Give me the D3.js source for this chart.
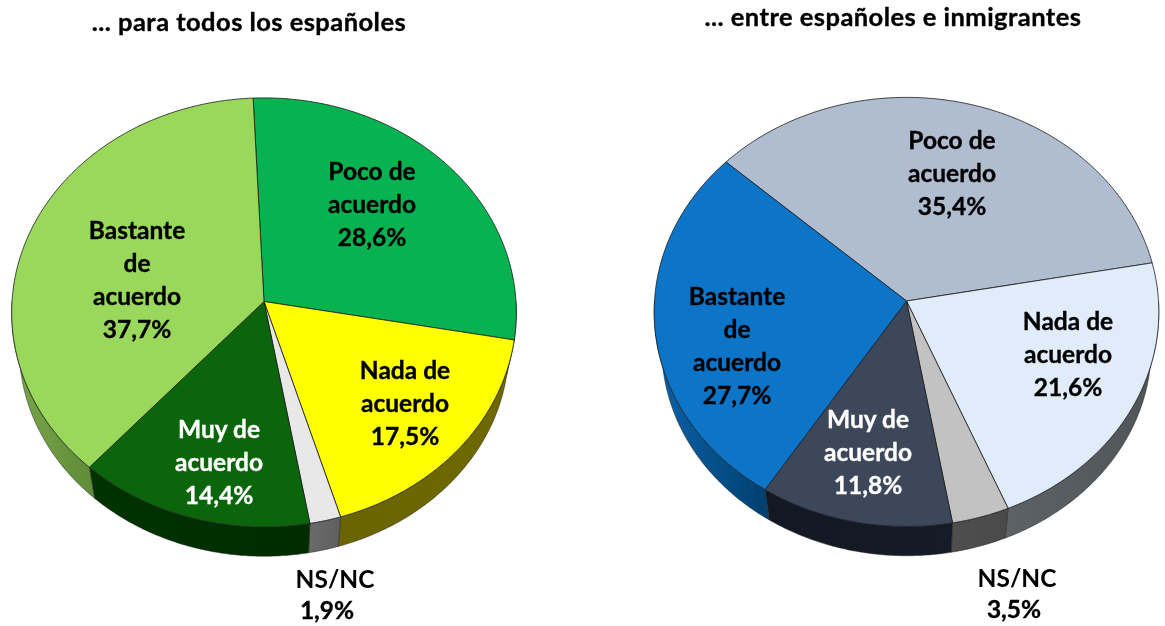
<!DOCTYPE html>
<html><head><meta charset="utf-8">
<script src="https://cdn.jsdelivr.net/npm/d3@7"></script>
<style>html,body{margin:0;padding:0;background:#fff}svg{display:block;filter:blur(.45px)}text{font-family:Lato,Carlito,sans-serif;font-weight:700;text-anchor:middle;stroke-width:.35px}</style>
</head><body><div id="c"></div>
<script>
// --- data ---
const categories = ["Poco de acuerdo","Nada de acuerdo","NS/NC","Muy de acuerdo","Bastante de acuerdo"];
const labelLines = [["Poco de","acuerdo"],["Nada de","acuerdo"],["NS/NC"],["Muy de","acuerdo"],["Bastante","de","acuerdo"]];
const valuesTodos = [28.6,17.5,1.9,14.4,37.7];
const valuesInmigrantes = [35.4,21.6,3.5,11.8,27.7];
const titleTodos = "... para todos los españoles";
const titleInmigrantes = "... entre españoles e inmigrantes";
const faceTodos = ["#07b250","#ffff00","#e8e8e8","#0b660b","#9ad85b"];
const faceInmigrantes = ["#b0bccf","#e0ecf9","#c2c2c2","#3c4759","#0c75c8"];
const wallTodos = [["#05703a","#05703a"],["#6a6400","#6f6900"],["#6a6a6a","#5f5f5f"],["#003300","#002c00"],["#7ba84a","#5f8a37"]];
const wallInmigrantes = [["#6c7583","#6c7583"],["#5c6266","#4f5457"],["#4e4e4e","#4a4a4a"],["#131923","#161c27"],["#0a62aa","#003f6e"]];
// --- layout ---
const W=1165,H=626,R=252,tilt=214,persp=0.051,backScale=0.97,backDrop=36;
const pies=[
 {id:"a",values:valuesTodos,face:faceTodos,wall:wallTodos,title:titleTodos,cx:264,cy:301.5,start:-2.6,titleX:249,titleY:31,
  anchors:[[372,180],[405,379],[335,588],[219,438],[137,239]],valueDx:[0,0,-8,0,0],fill:["#000","#000","#000","#fff","#000"]},
 {id:"b",values:valuesInmigrantes,face:faceInmigrantes,wall:wallInmigrantes,title:titleInmigrantes,cx:906.5,cy:301,start:-47.8,titleX:893,titleY:26,
  anchors:[[952,149],[1068,330],[1017,587],[868,428],[737,305]],valueDx:[0,0,-3,0,0],fill:["#000","#000","#000","#fff","#000"]}
];
const lineH=33, fontSize=24.5, titleSize=25.5;
const svg=d3.select("#c").append("svg").attr("width",W).attr("height",H).attr("viewBox",[0,0,W,H]);
const defs=svg.append("defs");
const line=d3.line();
function project(a){ // a: radians clockwise from the top of the disc
  const Y=-Math.cos(a), w=1-persp*Y;
  return [R*Math.sin(a)/w, tilt*Y/w];
}
const back=p=>[p[0]*backScale,p[1]*backScale+backDrop];
function arcPts(a0,a1){
  const n=Math.max(2,Math.ceil((a1-a0)/0.01)), s=d3.scaleLinear().domain([0,n]).range([a0,a1]);
  return d3.range(n+1).map(i=>project(s(i)));
}
pies.forEach(p=>{
  const startRad=p.start*Math.PI/180;
  const arcs=d3.pie().sort(null).startAngle(startRad).endAngle(startRad+2*Math.PI)(p.values);
  const g=svg.append("g").attr("transform",`translate(${p.cx},${p.cy})`);
  // side walls
  arcs.forEach((d,i)=>{
    let a0=d.startAngle,a1=d.endAngle;
    const lo=Math.PI/2,hi=3*Math.PI/2;
    a0=Math.max(a0,lo);a1=Math.min(a1,hi);
    if(a1<=a0){return;}
    const id=`w${p.id}${i}`;
    const lg=defs.append("linearGradient").attr("id",id).attr("x1",0).attr("x2",1).attr("y1",0).attr("y2",0);
    lg.append("stop").attr("offset",0).attr("stop-color",p.wall[i][0]);
    lg.append("stop").attr("offset",1).attr("stop-color",p.wall[i][1]);
    const top=arcPts(a0,a1), bot=top.map(back).reverse();
    g.append("path").attr("d",line(top.concat(bot))+"Z").attr("fill",`url(#${id})`)
      .attr("stroke","#222").attr("stroke-width",.7).attr("stroke-opacity",.7);
  });
  // top faces
  arcs.forEach((d,i)=>{
    const pts=[[0,0]].concat(arcPts(d.startAngle,d.endAngle));
    g.append("path").attr("d",line(pts)+"Z").attr("fill",p.face[i])
      .attr("stroke","#1c1c1c").attr("stroke-width",1).attr("stroke-opacity",.8).attr("stroke-linejoin","round");
  });
  // labels
  arcs.forEach((d,i)=>{
    const [x,y]=p.anchors[i];
    const lines=labelLines[i];
    lines.forEach((t,k)=>{
      svg.append("text").attr("x",x).attr("y",y+k*lineH).attr("font-size",fontSize).attr("fill",p.fill[i]).attr("stroke",lines.length==1?"none":p.fill[i]).text(t);
    });
    svg.append("text").attr("x",x+p.valueDx[i]).attr("y",y+lines.length*lineH-(lines.length==1?2:0)).attr("font-size",fontSize).attr("fill",p.fill[i]).attr("stroke",p.fill[i])
      .text(p.values[i].toFixed(1).replace(".",",")+"%");
  });
  svg.append("text").attr("x",p.titleX).attr("y",p.titleY).attr("font-size",titleSize).attr("letter-spacing",".45px").attr("fill","#000").attr("stroke","#000").text(p.title);
});
</script></body></html>
